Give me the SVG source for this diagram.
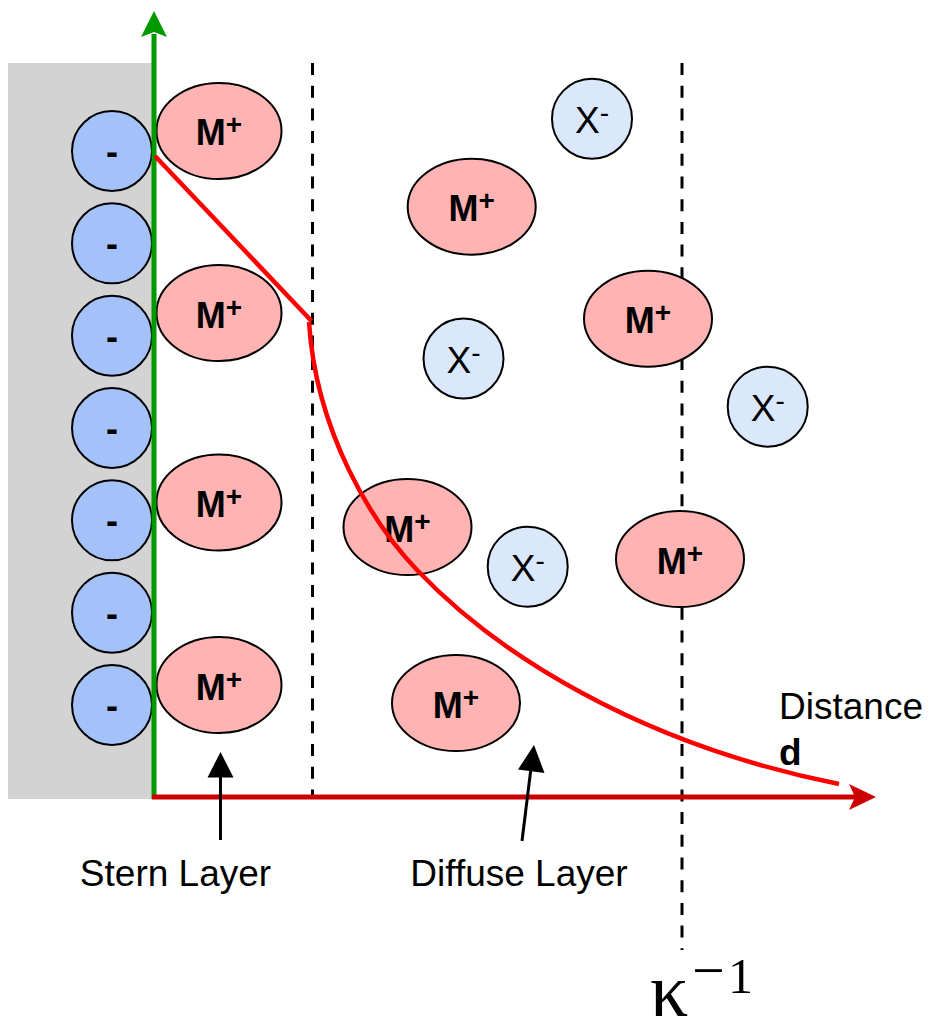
<svg xmlns="http://www.w3.org/2000/svg" width="932" height="1024" viewBox="0 0 932 1024">
  <style>
    .surface { fill: #d3d3d3; }
    .neg { fill: #a4c2f9; stroke: #000; stroke-width: 2; }
    .cat { fill: #ffb3b3; stroke: #000; stroke-width: 2; }
    .ani { fill: #dae8fc; stroke: #000; stroke-width: 2; }
    .lbl { font-family: "Liberation Sans", Arial, sans-serif; font-size: 37px; fill: #000; }
    .b { font-weight: bold; font-size: 36px; }
    .mid { text-anchor: middle; }
    .sup { font-size: 28px; }
    .dash { stroke: #000; stroke-width: 3; stroke-dasharray: 12 10.7; fill: none; }
    .pot { stroke: #ff0000; stroke-width: 4.5; fill: none; }
    .ptr { stroke: #000; stroke-width: 3; fill: none; }
    .math { font-family: "Liberation Serif", "DejaVu Serif", serif; fill: #000; }
  </style>

  <!-- charged electrode surface -->
  <rect class="surface" x="8" y="63" width="146" height="736"/>

  <!-- surface charges -->
  <g id="surface-charges">
    <g id="neg1"><circle class="neg" cx="112" cy="151" r="40"/><text class="lbl b mid" x="112" y="164">-</text></g>
    <g id="neg2"><circle class="neg" cx="112" cy="243.3" r="40"/><text class="lbl b mid" x="112" y="256">-</text></g>
    <g id="neg3"><circle class="neg" cx="112" cy="335.7" r="40"/><text class="lbl b mid" x="112" y="349">-</text></g>
    <g id="neg4"><circle class="neg" cx="112" cy="428" r="40"/><text class="lbl b mid" x="112" y="441">-</text></g>
    <g id="neg5"><circle class="neg" cx="112" cy="520.3" r="40"/><text class="lbl b mid" x="112" y="533">-</text></g>
    <g id="neg6"><circle class="neg" cx="112" cy="612.7" r="40"/><text class="lbl b mid" x="112" y="626">-</text></g>
    <g id="neg7"><circle class="neg" cx="112" cy="705" r="40"/><text class="lbl b mid" x="112" y="718">-</text></g>
  </g>

  <!-- layer boundaries -->
  <g id="boundaries">
    <line class="dash" x1="312.5" y1="63" x2="312.5" y2="797"/>
    <line class="dash" x1="682" y1="63" x2="682" y2="950"/>
  </g>

  <!-- cations -->
  <g id="cat1"><ellipse class="cat" cx="219" cy="131" rx="62.5" ry="48"/><text class="lbl b mid" x="219" y="145">M<tspan class="sup" dy="-11">+</tspan></text></g>
  <g id="cat2"><ellipse class="cat" cx="219" cy="313" rx="62.5" ry="48"/><text class="lbl b mid" x="219" y="328">M<tspan class="sup" dy="-11">+</tspan></text></g>
  <g id="cat3"><ellipse class="cat" cx="219" cy="502.5" rx="62.5" ry="48"/><text class="lbl b mid" x="219" y="517">M<tspan class="sup" dy="-11">+</tspan></text></g>
  <g id="cat4"><ellipse class="cat" cx="219" cy="685" rx="62.5" ry="48"/><text class="lbl b mid" x="219" y="700">M<tspan class="sup" dy="-11">+</tspan></text></g>
  <g id="cat5"><ellipse class="cat" cx="471.7" cy="206.7" rx="64" ry="48"/><text class="lbl b mid" x="471.7" y="221">M<tspan class="sup" dy="-11">+</tspan></text></g>
  <g id="cat6"><ellipse class="cat" cx="648" cy="318.7" rx="64" ry="48"/><text class="lbl b mid" x="648" y="333">M<tspan class="sup" dy="-11">+</tspan></text></g>
  <g id="cat7"><ellipse class="cat" cx="407.5" cy="527" rx="64" ry="48"/><text class="lbl b mid" x="407.5" y="542">M<tspan class="sup" dy="-11">+</tspan></text></g>
  <g id="cat8"><ellipse class="cat" cx="680" cy="559" rx="64" ry="48"/><text class="lbl b mid" x="680" y="574">M<tspan class="sup" dy="-11">+</tspan></text></g>
  <g id="cat9"><ellipse class="cat" cx="456" cy="703" rx="64" ry="48"/><text class="lbl b mid" x="456" y="718">M<tspan class="sup" dy="-11">+</tspan></text></g>

  <!-- anions -->
  <g id="ani1"><circle class="ani" cx="592" cy="118.7" r="40"/><text class="lbl mid" x="592" y="133">X<tspan class="sup" dy="-11">-</tspan></text></g>
  <g id="ani2"><circle class="ani" cx="463.5" cy="358.5" r="40"/><text class="lbl mid" x="463.5" y="373">X<tspan class="sup" dy="-11">-</tspan></text></g>
  <g id="ani3"><circle class="ani" cx="767.7" cy="406.7" r="40"/><text class="lbl mid" x="767.7" y="421">X<tspan class="sup" dy="-11">-</tspan></text></g>
  <g id="ani4"><circle class="ani" cx="527.7" cy="566.7" r="40"/><text class="lbl mid" x="527.7" y="581">X<tspan class="sup" dy="-11">-</tspan></text></g>

  <!-- axes, potential profile and label pointers -->
  <g id="connectors">
    <line x1="154" y1="799" x2="154" y2="34" stroke="#009900" stroke-width="5"/>
    <polygon points="154,11 167,37 154,32 141,37" fill="#009900"/>
    <line x1="152" y1="797" x2="856" y2="797" stroke="#cc0000" stroke-width="5"/>
    <polygon points="876,797 849,784 855,797 849,810" fill="#cc0000"/>

    <line class="pot" x1="155" y1="156" x2="311.5" y2="321"/>
    <path class="pot" d="M309,322 C316,432 372,523 417,570 C497,654 639,744 839,784"/>

    <line class="ptr" x1="220.5" y1="775" x2="220.5" y2="840"/>
    <polygon points="220.5,752 233.5,777.5 207.5,777.5" fill="#000"/>
    <line class="ptr" x1="531" y1="768" x2="522" y2="841"/>
    <polygon points="534,745 544.5,773 518,769.5" fill="#000"/>
  </g>

  <!-- labels -->
  <g id="labels">
    <text class="lbl mid" x="175.5" y="886">Stern Layer</text>
    <text class="lbl mid" x="519" y="886">Diffuse Layer</text>
    <text class="lbl" x="779" y="719">Distance</text>
    <text class="lbl b" x="779" y="765" style="font-size:37px">d</text>
    <text class="math" x="650" y="1016" font-size="76">κ</text>
    <text class="math" x="692" y="990" font-size="58">−</text>
    <text class="math" x="728" y="993" font-size="50">1</text>
  </g>
</svg>
